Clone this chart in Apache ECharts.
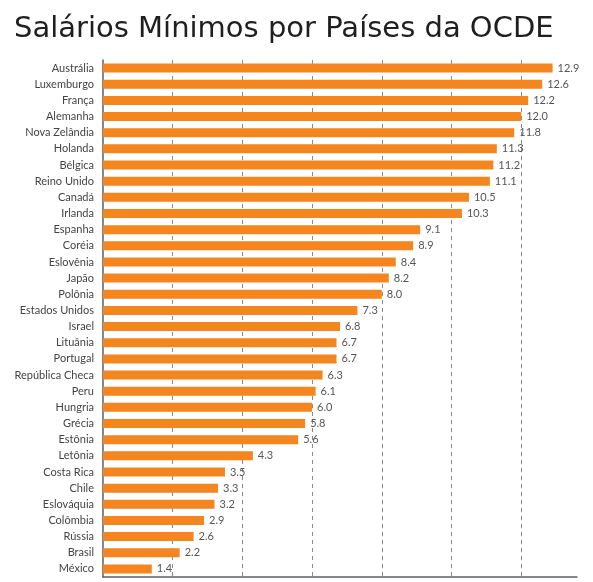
<!DOCTYPE html>
<html>
<head>
<meta charset="utf-8">
<script src="https://cdn.jsdelivr.net/npm/echarts@6/dist/echarts.min.js"></script>
<style>
  html, body { margin: 0; padding: 0; background: #fff; }
  #chart { width: 593px; height: 582px; }
</style>
</head>
<body>
<div id="chart"></div>
<script>
// países, do maior para o menor salário
var paises = ['Austrália', 'Luxemburgo', 'França', 'Alemanha', 'Nova Zelândia', 'Holanda',
  'Bélgica', 'Reino Unido', 'Canadá', 'Irlanda', 'Espanha', 'Coréia', 'Eslovênia', 'Japão',
  'Polônia', 'Estados Unidos', 'Israel', 'Lituânia', 'Portugal', 'República Checa', 'Peru',
  'Hungria', 'Grécia', 'Estônia', 'Letônia', 'Costa Rica', 'Chile', 'Eslováquia', 'Colômbia',
  'Rússia', 'Brasil', 'México'];
var salarios = [12.9, 12.6, 12.2, 12.0, 11.8, 11.3, 11.2, 11.1, 10.5, 10.3, 9.1, 8.9, 8.4, 8.2,
  8.0, 7.3, 6.8, 6.7, 6.7, 6.3, 6.1, 6.0, 5.8, 5.6, 4.3, 3.5, 3.3, 3.2, 2.9, 2.6, 2.2, 1.4];

var myChart = echarts.init(document.getElementById('chart'));

var option = {
  animation: false,
  title: {
    text: 'Salários Mínimos por Países da OCDE',
    left: 9,
    top: 10,
    textStyle: {
      fontFamily: 'DejaVu Sans',
      fontWeight: 'normal',
      fontSize: 29,
      color: '#1f1f1f'
    }
  },
  grid: { left: 103, right: 16, top: 60, bottom: 5 },
  xAxis: {
    type: 'value',
    min: 0,
    max: 13.6,
    interval: 2,
    axisLabel: { show: false },
    axisTick: { show: false },
    axisLine: { show: true, onZero: false, lineStyle: { color: '#5a6068', width: 1.5 } },
    splitLine: {
      show: true,
      showMinLine: false,
      showMaxLine: false,
      lineStyle: { color: '#8a8a8a', type: [4, 4], width: 1 }
    }
  },
  yAxis: {
    type: 'category',
    data: paises,
    inverse: true,
    axisTick: { show: false },
    axisLine: { show: true, lineStyle: { color: '#5a6068', width: 1.5 } },
    axisLabel: {
      fontFamily: 'Lato',
      fontSize: 11,
      color: '#444',
      margin: 9
    }
  },
  series: [
    {
      type: 'bar',
      data: salarios,
      barWidth: 9,
      itemStyle: { color: '#f5851f' },
      label: {
        show: true,
        position: 'right',
        distance: 5,
        fontFamily: 'Lato',
        fontSize: 11,
        color: '#555',
        formatter: function (p) { return p.value.toFixed(1); }
      }
    }
  ]
};

myChart.setOption(option);
</script>
</body>
</html>
